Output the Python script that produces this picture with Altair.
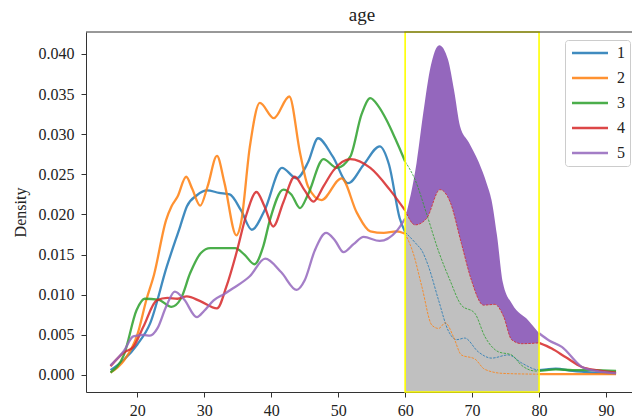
import altair as alt
import pandas as pd

# ---------------- data ----------------
SERIES = ["1", "2", "3", "4", "5"]
COLORS = ["#1f77b4", "#ff7f0e", "#2ca02c", "#d62728", "#9467bd"]

X1 = [16, 18, 20, 21.9, 24.4, 26.4, 27.4, 28.9, 30.4, 32.2, 33.8, 35.5, 37.1, 39, 41.6, 43.8, 45.5, 47,
      49.2, 51.5, 53.8, 56.2, 57.6, 59.2, 60, 61.7, 62.5, 63.5, 65, 66.4, 67.7, 68.9, 70.9, 72.9, 75.4,
      77.4, 79.4, 80, 82.5, 85, 88, 91.5]
Y1 = [0.0006, 0.0019, 0.0038, 0.0064, 0.0135, 0.0185, 0.0210, 0.0224, 0.0230, 0.0227, 0.0225, 0.0205,
      0.0181, 0.0205, 0.0258, 0.0245, 0.0265, 0.0295, 0.0272, 0.0239, 0.0262, 0.0285, 0.0262, 0.0195,
      0.0178, 0.0163, 0.0155, 0.0135, 0.0093, 0.0056, 0.0044, 0.0046, 0.0029, 0.0021, 0.0025, 0.0015,
      0.0007, 0.0006, 0.0008, 0.0005, 0.0003, 0.0002]

X2 = [16, 18, 20, 21.4, 22.5, 24.3, 25.1, 26, 27.3, 28.2, 29.4, 30.5, 31.9, 33, 34.8, 35.5, 36.8, 38.3,
      40.4, 42.7, 44.3, 45.5, 47.5, 50.5, 52.8, 54.8, 56.8, 58.7, 60, 61.2, 62.5, 64, 65, 66, 67.2, 68.4,
      70.4, 71.9, 74.6, 80, 85, 91.5]
Y2 = [0.0003, 0.0018, 0.0050, 0.0095, 0.0125, 0.0193, 0.0210, 0.0222, 0.0247, 0.0232, 0.0211, 0.0235,
      0.0273, 0.0240, 0.0174, 0.0190, 0.0284, 0.0339, 0.0320, 0.0347, 0.0277, 0.0235, 0.0218, 0.0245,
      0.0202, 0.0179, 0.0177, 0.0179, 0.0176, 0.0152, 0.0110, 0.0062, 0.0058, 0.0065, 0.0048, 0.0025,
      0.0020, 0.0007, 0.0002, 0.0001, 0.0001, 0.0001]

X3 = [16, 18, 19.9, 21.1, 23.1, 25.1, 26.5, 27.9, 29.5, 30.9, 34.6, 36, 37.5, 38.8, 39.8, 41.8, 43, 44.3,
      45.5, 47.8, 49.8, 51.8, 53.5, 54.8, 56, 57.2, 58.5, 59.7, 60, 61.5, 63.2, 65, 66.7, 68.4, 70.4, 71.9,
      73.9, 75.9, 77.4, 79.4, 80, 82.5, 85, 88, 91.5]
Y3 = [0.0003, 0.0025, 0.0081, 0.0095, 0.0094, 0.0085, 0.0095, 0.0127, 0.0152, 0.0158, 0.0158, 0.0150,
      0.0138, 0.0160, 0.0193, 0.0231, 0.0225, 0.0208, 0.0225, 0.0269, 0.0258, 0.0272, 0.0325, 0.0345,
      0.0335, 0.0318, 0.0295, 0.0272, 0.0266, 0.0243, 0.0201, 0.0154, 0.0118, 0.0087, 0.0077, 0.0048,
      0.0029, 0.0025, 0.0012, 0.0005, 0.0005, 0.0007, 0.0006, 0.0006, 0.0005]

X4 = [16, 18, 19.4, 20.9, 22.9, 24.5, 26, 27.4, 29.4, 31.9, 33.3, 34.8, 36.3, 37.8, 39, 40.3, 41.8, 43.5,
      45, 46.3, 47.8, 49.3, 51.8, 54.8, 57.7, 60, 61.5, 63.2, 65.2, 66.7, 68.4, 69.9, 71.7, 73.4, 74.7,
      75.9, 77.4, 80, 81.9, 84, 86.4, 88.5, 91.5]
Y4 = [0.0011, 0.0028, 0.0035, 0.0060, 0.0093, 0.0096, 0.0095, 0.0098, 0.0092, 0.0083, 0.0110, 0.0152,
      0.0200, 0.0228, 0.0210, 0.0185, 0.0215, 0.0247, 0.0230, 0.0216, 0.0235, 0.0255, 0.0269, 0.0258,
      0.0231, 0.0205, 0.0187, 0.0195, 0.0231, 0.0216, 0.0164, 0.0118, 0.0087, 0.0088, 0.0073, 0.0044,
      0.0039, 0.0040, 0.0033, 0.0022, 0.0010, 0.0006, 0.0003]

X5 = [16, 18, 19.4, 20.9, 21.9, 23, 24.3, 25.6, 27, 28.9, 30, 31.4, 33, 34.3, 36.8, 39.1, 41.5, 43.8, 45,
      46.5, 48.2, 49.5, 50.8, 52.3, 53.8, 56.2, 58.7, 60, 61.7, 62.7, 63.8, 65.1, 66.4, 67.3, 68.2, 69.5,
      71, 72.2, 72.9, 73.7, 74.6, 76, 78.4, 80, 81.5, 83.4, 86.4, 88.5, 91.5]
Y5 = [0.0012, 0.0030, 0.0048, 0.0050, 0.0049, 0.0058, 0.0085, 0.0104, 0.0094, 0.0072, 0.0080, 0.0093,
      0.0101, 0.0108, 0.0123, 0.0145, 0.0128, 0.0106, 0.0118, 0.0155, 0.0177, 0.0168, 0.0153, 0.0163,
      0.0172, 0.0167, 0.0179, 0.0195, 0.0264, 0.0326, 0.0384, 0.0411, 0.0393, 0.0355, 0.0310, 0.0290,
      0.0265, 0.0238, 0.0218, 0.0175, 0.0115, 0.0088, 0.0068, 0.0052, 0.0043, 0.0035, 0.0010, 0.0005,
      0.0002]

XS = [X1, X2, X3, X4, X5]
YS = [Y1, Y2, Y3, Y4, Y5]

SPAN_START = [60]
SPAN_END = [80]
X_TICKS = [20, 30, 40, 50, 60, 70, 80, 90]
Y_TICKS = [0.0, 0.005, 0.010, 0.015, 0.020, 0.025, 0.030, 0.035, 0.040]
X_DOMAIN = [12.34, 93.88]
Y_DOMAIN = [-0.00212, 0.04274]

# ---------------- tables ----------------
rows = []
for name, xs, ys in zip(SERIES, XS, YS):
    for x, y in zip(xs, ys):
        rows.append({"series": name, "x": x, "y": y, "base": Y_DOMAIN[0]})
df = pd.DataFrame(rows)

lo, hi = SPAN_START[0], SPAN_END[0]
outside = df[(df.x <= lo) | (df.x >= hi)].copy()
outside["seg"] = outside["series"] + (outside.x <= lo).map({True: "a", False: "b"})
inside = df[(df.x >= lo) & (df.x <= hi)].copy()
span = pd.DataFrame({"start": SPAN_START, "end": SPAN_END})

W, H = 546, 360
FONT = "Liberation Serif"

xscale = alt.Scale(domain=X_DOMAIN, nice=False, zero=False)
yscale = alt.Scale(domain=Y_DOMAIN, nice=False, zero=False)
xaxis = alt.Axis(values=X_TICKS, title=None, format="d")
yaxis = alt.Axis(values=Y_TICKS, title="Density", format=".3f")

X = alt.X("x:Q", scale=xscale, axis=xaxis)
Y = alt.Y("y:Q", scale=yscale, axis=yaxis)
cscale = alt.Scale(domain=SERIES, range=COLORS)

thick = alt.Chart(outside).mark_line(interpolate="monotone", strokeWidth=2.3, opacity=0.85, clip=True).encode(
    x=X, y=Y,
    color=alt.Color("series:N", scale=cscale, legend=alt.Legend(
        title=None, orient="none", legendX=479, legendY=8,
        symbolType="M-3,0H3", symbolSize=144, symbolStrokeWidth=2.3, symbolOffset=12,
        labelOffset=19, labelFont=FONT, labelFontSize=16, labelColor="#222",
        rowPadding=9, padding=5, strokeColor="#cccccc", cornerRadius=3, fillColor="white",
    )),
    detail="seg:N",
)

purple = alt.Chart(inside[inside.series == "5"]).mark_area(
    interpolate="monotone", color="#9467bd", opacity=1, clip=True
).encode(x=X, y=Y, y2="base:Q")

gray = alt.Chart(inside[inside.series == "4"]).mark_area(
    interpolate="monotone", color="#c0c0c0", opacity=1, clip=True
).encode(x=X, y=Y, y2="base:Q")

thin = alt.Chart(inside[inside.series != "5"]).mark_line(
    interpolate="monotone", strokeWidth=1, opacity=0.8, strokeDash=[2.5, 1.2], clip=True
).encode(x=X, y=Y, color=alt.Color("series:N", scale=cscale, legend=None))

box = alt.Chart(span).mark_rect(fillOpacity=0, stroke="#ffff00", strokeWidth=1.6).encode(
    x=alt.X("start:Q", scale=xscale, axis=xaxis), x2="end:Q", y=alt.value(0), y2=alt.value(H)
)

top_spine = alt.Chart(span).mark_rule(color="#333333", strokeWidth=1).encode(
    x=alt.value(0), x2=alt.value(W), y=alt.value(0)
)

chart = alt.layer(thick, purple, gray, thin, box, top_spine).properties(
    width=W, height=H,
    title=alt.TitleParams("age", font=FONT, fontSize=19, fontWeight="normal", color="#222",
                          anchor="middle", dx=3, offset=6),
    autosize=alt.AutoSizeParams(type="none"),
    padding={"left": 86, "top": 32, "right": 0, "bottom": 26},
).configure_view(stroke=None).configure_axis(
    grid=False, domainColor="#333333", tickColor="#333333", tickSize=5, domainWidth=1, tickWidth=1,
    labelFont=FONT, labelFontSize=16, labelColor="#222", titleFont=FONT, titleFontSize=16,
    titleColor="#222", titleFontWeight="normal",
).configure_axisY(labelPadding=7, titlePadding=10).configure_axisX(labelPadding=5)

chart.save("out.html", embed_options={"renderer": "svg", "actions": False})
